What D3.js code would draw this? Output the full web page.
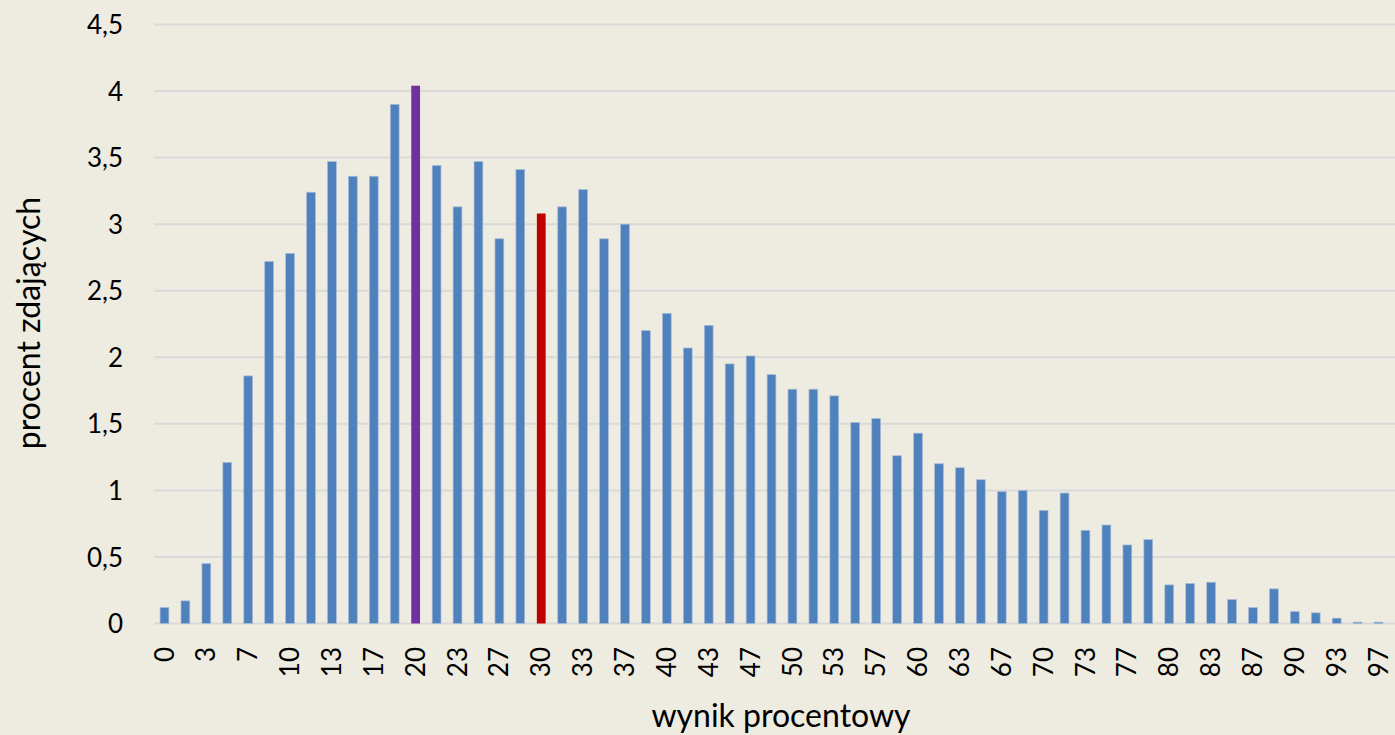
<!DOCTYPE html>
<html><head><meta charset="utf-8">
<script src="https://cdn.jsdelivr.net/npm/d3@7"></script>
<style>body{margin:0;background:#EEEBE0;overflow:hidden}</style>
</head><body>
<svg id="c" width="1395" height="735"></svg>
<script>
const categories = ["0","2","3","5","7","8","10","12","13","15","17","18","20","22","23","25","27","28","30","32","33","35","37","38","40","42","43","45","47","48","50","52","53","55","57","58","60","62","63","65","67","68","70","72","73","75","77","78","80","82","83","85","87","88","90","92","93","95","97"];
const values = [0.12,0.17,0.45,1.21,1.86,2.72,2.78,3.24,3.47,3.36,3.36,3.90,4.04,3.44,3.13,3.47,2.89,3.41,3.08,3.13,3.26,2.89,3.00,2.20,2.33,2.07,2.24,1.95,2.01,1.87,1.76,1.76,1.71,1.51,1.54,1.26,1.43,1.20,1.17,1.08,0.99,1.00,0.85,0.98,0.70,0.74,0.59,0.63,0.29,0.30,0.31,0.18,0.12,0.26,0.09,0.08,0.04,0.01,0.01];
const highlight = {"20":"#7030A0","30":"#C00000"};
const yTicks = [0,0.5,1,1.5,2,2.5,3,3.5,4,4.5];
const xLabels = categories.filter((d,i)=>i%2===0);

const svg = d3.select("#c");
svg.append("rect").attr("width",1395).attr("height",735).attr("fill","#EEEBE0");
const x = d3.scaleBand().domain(categories).range([154,1389]).paddingInner(0.58).paddingOuter(0.29);
const y = d3.scaleLinear().domain([0,4.5]).range([623.5,24.5]);
const font = "Lato, 'Open Sans', sans-serif";

// gridlines
svg.append("g").selectAll("line").data(yTicks).join("line")
  .attr("x1",154).attr("x2",1395).attr("y1",d=>y(d)).attr("y2",d=>y(d))
  .attr("stroke","#D9D9D9").attr("stroke-width",2);

// bars
svg.append("g").selectAll("rect").data(categories).join("rect")
  .attr("x",d=>x(d)).attr("width",x.bandwidth())
  .attr("y",(d,i)=>y(values[i])).attr("height",(d,i)=>y(0)-y(values[i]))
  .attr("fill",d=>highlight[d]||"#4F81BD")
  .attr("stroke",d=>highlight[d]?"none":"#A7BCD8").attr("stroke-width",0.7);

// y axis labels
const ya = d3.axisLeft(y).tickValues(yTicks).tickSize(0).tickPadding(0)
  .tickFormat(d=>String(d).replace(".",","));
const yg = svg.append("g").attr("transform","translate(123,0)").call(ya);
yg.select(".domain").remove();
yg.selectAll("text").attr("font-family",font).attr("font-size",26).attr("fill","#000").attr("dy","0.35em");

// x axis labels
const xa = d3.axisBottom(x).tickValues(xLabels).tickSize(0).tickPadding(0);
const xg = svg.append("g").attr("transform","translate(0,647)").call(xa);
xg.select(".domain").remove();
xg.selectAll("text").attr("font-family",font).attr("font-size",26).attr("fill","#000")
  .attr("transform","rotate(-90)").attr("text-anchor","end").attr("x",0).attr("y",0).attr("dy","0.35em");

// titles
svg.append("text").attr("x",781).attr("y",727).attr("text-anchor","middle")
  .attr("font-family",font).attr("font-size",32).attr("fill","#000").text("wynik procentowy");
svg.append("text").attr("transform","translate(40,323) rotate(-90)").attr("text-anchor","middle")
  .attr("font-family",font).attr("font-size",32).attr("fill","#000").text("procent zdających");
</script>
</body></html>
